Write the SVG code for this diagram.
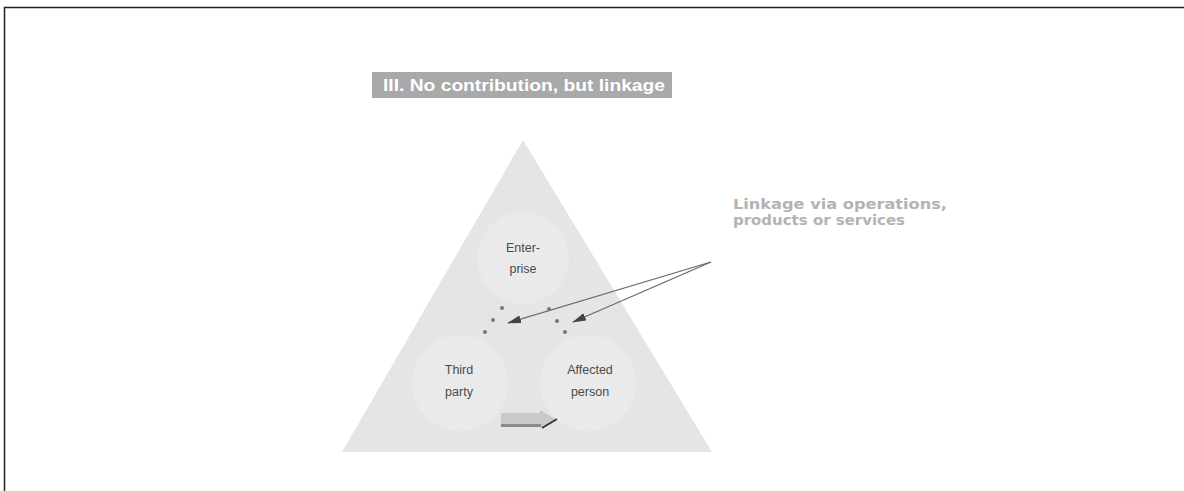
<svg xmlns="http://www.w3.org/2000/svg" width="1184" height="491" viewBox="0 0 1184 491">
<defs>
<style>
.node{fill:#eaeaea}
.lbl{font-family:"Liberation Sans",Arial,sans-serif;font-size:12.5px;fill:#4a4a4a;text-anchor:middle}
.conn{stroke:#6a6a6a;stroke-width:1.3;fill:none}
.dot{fill:#777}
.link{font-family:"DejaVu Sans","Liberation Sans",sans-serif;font-weight:bold;font-size:14px;fill:#b3b3b3}
</style>
<marker id="ah" viewBox="0 0 14 8" refX="13" refY="4" markerWidth="14" markerHeight="8" markerUnits="userSpaceOnUse" orient="auto">
<path d="M0,0 L14,4 L0,8 z" fill="#444"/>
</marker>
</defs>
<rect width="1184" height="491" fill="#ffffff"/>
<path d="M4.5,491 L4.5,7.5 L1184,7.5" stroke="#222" stroke-width="1.5" fill="none"/>
<g id="title">
<rect x="372" y="72" width="300" height="26" fill="#a9a9a9"/>
<text x="383" y="91" font-family="Liberation Sans,Arial,sans-serif" font-weight="bold" font-size="16" fill="#ffffff" textLength="282" lengthAdjust="spacingAndGlyphs">III. No contribution, but linkage</text>
</g>
<g id="triangle">
<polygon points="523,140 342,452 712,452" fill="#e5e5e5"/>
</g>
<g id="enterprise">
<circle class="node" cx="523" cy="258" r="46"/>
<text class="lbl" x="523" y="252">Enter-</text>
<text class="lbl" x="523" y="273">prise</text>
</g>
<g id="third-party">
<circle class="node" cx="460" cy="383" r="48"/>
<text class="lbl" x="459" y="374">Third</text>
<text class="lbl" x="459" y="396">party</text>
</g>
<g id="affected-person">
<circle class="node" cx="588" cy="383" r="48"/>
<text class="lbl" x="590" y="374">Affected</text>
<text class="lbl" x="590" y="396">person</text>
</g>
<g id="linkage-label">
<text class="link" x="733" y="209" textLength="214" lengthAdjust="spacingAndGlyphs">Linkage via operations,</text>
<text class="link" x="733" y="225" textLength="172" lengthAdjust="spacingAndGlyphs">products or services</text>
</g>
<g id="connectors">
<circle class="dot" cx="502" cy="308" r="2"/>
<circle class="dot" cx="493" cy="320" r="2"/>
<circle class="dot" cx="485" cy="332" r="2"/>
<circle class="dot" cx="549" cy="309" r="2"/>
<circle class="dot" cx="557" cy="321" r="2"/>
<circle class="dot" cx="565" cy="332" r="2"/>
<line class="conn" x1="711" y1="262" x2="508" y2="323" marker-end="url(#ah)"/>
<line class="conn" x1="711" y1="262" x2="573" y2="322" marker-end="url(#ah)"/>
<g id="flow-arrow">
<polygon points="501,413 540,413 540,410 555,419 540,428 540,427 501,427" fill="#c9c9c9"/>
<rect x="501" y="424" width="40" height="3" fill="#8a8a8a"/>
<line x1="542" y1="428" x2="557" y2="419" stroke="#333" stroke-width="2"/>
</g>
</g>
</svg>
